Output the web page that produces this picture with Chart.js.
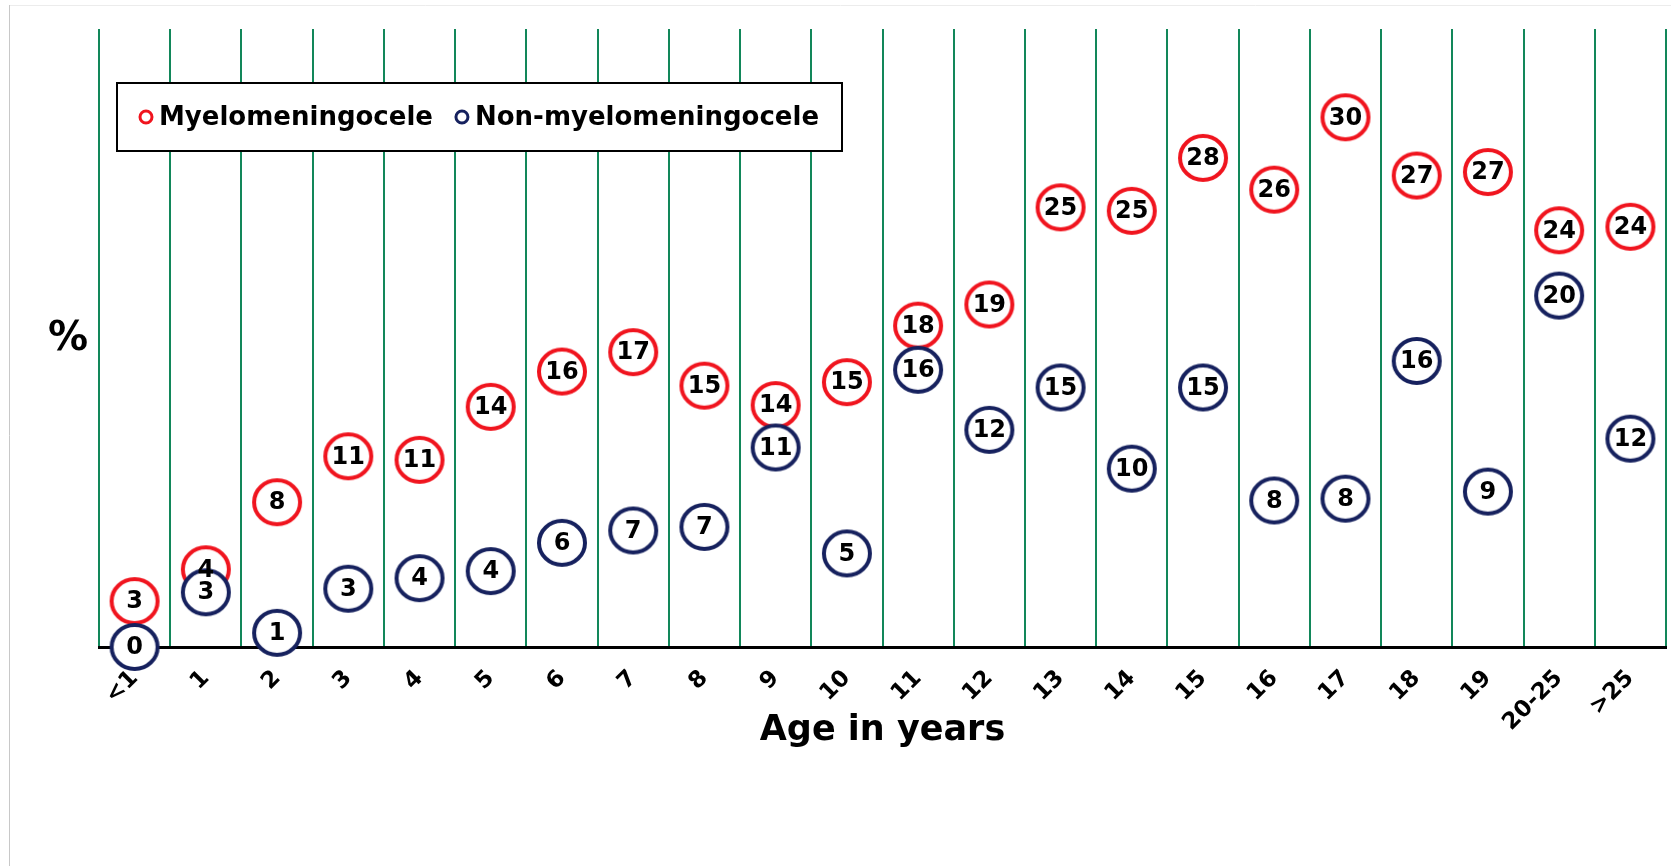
<!DOCTYPE html>
<html>
<head>
<meta charset="utf-8">
<script src="https://cdn.jsdelivr.net/npm/chart.js@4.4.0/dist/chart.umd.min.js"></script>
<style>
  html, body { margin: 0; padding: 0; background: #fff; }
  #quadro { width: 1671px; height: 866px; position: relative; }
</style>
</head>
<body>
<div id="quadro"><canvas id="graficoIdade"></canvas></div>
<script>
// faixas de idade (eixo x)
const idades = ['<1', '1', '2', '3', '4', '5', '6', '7', '8', '9', '10', '11',
  '12', '13', '14', '15', '16', '17', '18', '19', '20-25', '>25'];

// % por faixa - rótulo mostrado é o valor arredondado
const mielo = [2.6, 4.4, 8.2, 10.8, 10.6, 13.6, 15.6, 16.7, 14.8, 13.7, 15.0, 18.2,
  19.4, 24.9, 24.7, 27.7, 25.9, 30.0, 26.7, 26.9, 23.6, 23.8];
const naoMielo = [0.0, 3.1, 0.8, 3.3, 3.9, 4.3, 5.9, 6.6, 6.8, 11.3, 5.3, 15.7,
  12.3, 14.7, 10.1, 14.7, 8.3, 8.4, 16.2, 8.8, 19.9, 11.8];

const corMielo = '#f0141e';
const corNaoMielo = '#16215e';
const corGrade = '#12875a';

// marcador: círculo levemente achatado, fundo branco
function fazerMarcador(cor) {
  const c = document.createElement('canvas');
  c.width = 54;
  c.height = 52;
  const g = c.getContext('2d');
  g.beginPath();
  g.ellipse(27, 26, 23, 22, 0, 0, Math.PI * 2);
  g.fillStyle = '#fff';
  g.fill();
  g.lineWidth = 4;
  g.strokeStyle = cor;
  g.stroke();
  return c;
}

// números dentro dos círculos
const rotulosPontos = {
  id: 'rotulosPontos',
  afterDatasetsDraw(chart) {
    const ctx = chart.ctx;
    ctx.save();
    ctx.font = 'bold 24px "DejaVu Sans"';
    ctx.fillStyle = '#000';
    ctx.textAlign = 'center';
    ctx.textBaseline = 'middle';
    chart.data.datasets.forEach((ds, i) => {
      chart.getDatasetMeta(i).data.forEach((pt, j) => {
        ctx.fillText(Math.round(ds.data[j]), pt.x, pt.y + 1);
      });
    });
    ctx.restore();
  }
};

// moldura, caixa da legenda e o "%" do eixo y
const legendaCaixa = {
  id: 'legendaCaixa',
  beforeDraw(chart) {
    const ctx = chart.ctx;
    ctx.save();
    ctx.strokeStyle = '#ececec';
    ctx.lineWidth = 1;
    ctx.beginPath();
    ctx.moveTo(10, 5.5);
    ctx.lineTo(chart.width, 5.5);
    ctx.stroke();
    ctx.strokeStyle = '#c8c8c8';
    ctx.beginPath();
    ctx.moveTo(9.5, 5);
    ctx.lineTo(9.5, chart.height);
    ctx.stroke();
    ctx.restore();
  },
  afterDraw(chart) {
    const ctx = chart.ctx;
    const area = chart.chartArea;
    const x = area.left + 18, y = area.top + 54, w = 725, h = 68;
    ctx.save();
    ctx.fillStyle = '#fff';
    ctx.fillRect(x, y, w, h);
    ctx.strokeStyle = '#000';
    ctx.lineWidth = 2;
    ctx.strokeRect(x, y, w, h);

    ctx.font = 'bold 26px "DejaVu Sans"';
    ctx.textBaseline = 'middle';
    let px = x + 29;
    chart.data.datasets.forEach(ds => {
      ctx.beginPath();
      ctx.arc(px, y + h / 2, 6, 0, Math.PI * 2);
      ctx.fillStyle = '#fff';
      ctx.fill();
      ctx.lineWidth = 3;
      ctx.strokeStyle = ds.borderColor;
      ctx.stroke();
      ctx.fillStyle = '#000';
      ctx.fillText(ds.label, px + 13, y + h / 2 + 1);
      px += 13 + ctx.measureText(ds.label).width + 29;
    });

    ctx.font = 'bold 40px "DejaVu Sans"';
    ctx.textAlign = 'center';
    ctx.fillText('%', area.left - 31, (area.top + area.bottom) / 2 + 2);
    ctx.restore();
  }
};

const ctx = document.getElementById('graficoIdade').getContext('2d');
new Chart(ctx, {
  type: 'line',
  data: {
    labels: idades,
    datasets: [
      {
        label: 'Myelomeningocele',
        data: mielo,
        borderColor: corMielo,
        pointStyle: fazerMarcador(corMielo),
        showLine: false,
        clip: false,
        order: 1
      },
      {
        label: 'Non-myelomeningocele',
        data: naoMielo,
        borderColor: corNaoMielo,
        pointStyle: fazerMarcador(corNaoMielo),
        showLine: false,
        clip: false,
        order: 0
      }
    ]
  },
  options: {
    responsive: true,
    maintainAspectRatio: false,
    animation: false,
    events: [],
    layout: { padding: { left: 99, right: 4, top: 29, bottom: 114 } },
    plugins: {
      legend: { display: false },
      tooltip: { enabled: false }
    },
    scales: {
      x: {
        offset: true,
        grid: { offset: true, color: corGrade, lineWidth: 2, drawTicks: false },
        border: { color: '#000', width: 3 },
        ticks: {
          color: '#000',
          font: { family: 'DejaVu Sans', weight: 'bold', size: 23 },
          minRotation: 45,
          maxRotation: 45,
          padding: 18,
          autoSkip: false
        },
        title: {
          display: true,
          text: 'Age in years',
          color: '#000',
          font: { family: 'DejaVu Sans', weight: 'bold', size: 35 },
          padding: 0
        },
        afterFit(scale) {
          scale.height = 105;
          scale.paddingLeft = 0;
          scale.paddingRight = 0;
        }
      },
      y: {
        display: false,
        min: 0,
        max: 35
      }
    }
  },
  plugins: [rotulosPontos, legendaCaixa]
});
</script>
</body>
</html>
